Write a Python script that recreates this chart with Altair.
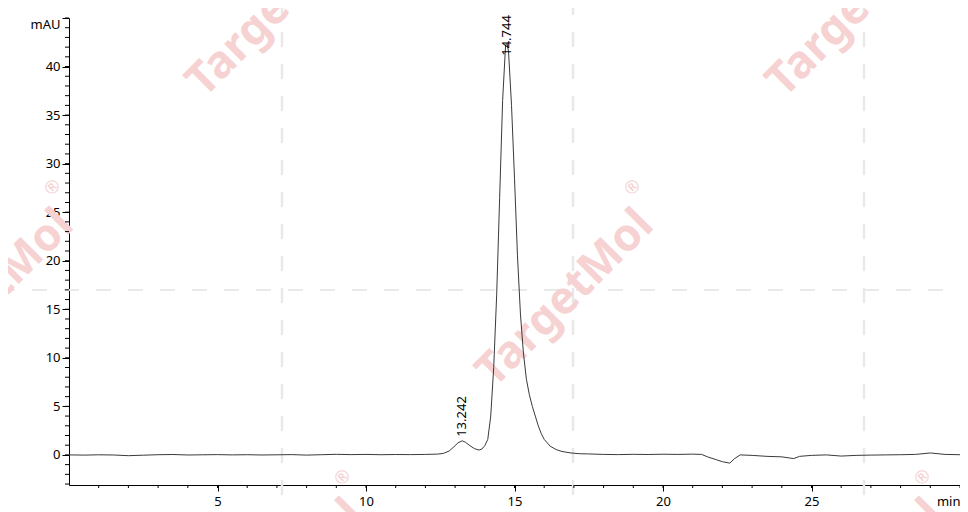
import altair as alt
import pandas as pd

# Chromatogram trace (minutes, mAU)
time_min = [0.0, 0.5, 1.0, 1.5, 2.0, 2.5, 3.0, 3.5, 4.0, 4.5, 5.0, 5.5, 6.0, 6.5, 7.0,
            7.5, 8.0, 8.5, 9.0, 9.5, 10.0, 10.5, 11.0, 11.5, 12.0, 12.4, 12.6, 12.8,
            13.0, 13.1, 13.24, 13.35, 13.5, 13.65, 13.8, 13.9, 14.0, 14.1, 14.2, 14.3,
            14.4, 14.5, 14.6, 14.7, 14.75, 14.8, 14.9, 15.0, 15.1, 15.2, 15.3, 15.4,
            15.5, 15.6, 15.7, 15.8, 15.9, 16.0, 16.2, 16.4, 16.6, 16.9, 17.2, 17.5,
            18.0, 18.5, 19.0, 19.5, 20.0, 20.5, 21.0, 21.3, 21.5, 21.8, 22.0, 22.25,
            22.4, 22.6, 23.0, 23.5, 24.0, 24.4, 24.6, 25.0, 25.5, 26.0, 26.5, 27.0,
            27.5, 28.0, 28.5, 29.0, 29.5, 30.0]
signal_mau = [0.00, -0.02, 0.01, -0.01, -0.08, -0.03, 0.02, 0.04, -0.01, 0.01, 0.03, 0.00,
              0.02, -0.01, 0.01, 0.03, -0.02, 0.02, 0.06, 0.03, 0.05, 0.02, 0.04, 0.03,
              0.05, 0.08, 0.15, 0.40, 0.95, 1.25, 1.45, 1.30, 0.95, 0.65, 0.50, 0.60,
              0.95, 1.60, 4.00, 9.00, 16.5, 26.5, 36.5, 42.2, 42.4, 41.5, 36.0, 28.5,
              20.5, 14.5, 10.5, 7.8, 6.2, 5.0, 4.0, 3.0, 2.2, 1.6, 0.9, 0.55, 0.35,
              0.20, 0.12, 0.10, 0.05, 0.03, 0.06, 0.04, 0.07, 0.05, 0.08, 0.05, -0.20,
              -0.50, -0.70, -0.85, -0.40, 0.00, -0.05, -0.15, -0.20, -0.38, -0.15,
              -0.05, 0.00, -0.12, -0.05, -0.02, 0.00, 0.02, 0.05, 0.20, 0.05, 0.02]

# Integrated peaks
peak_labels = ["13.242", "14.744"]
peak_rt = [13.242, 14.744]
peak_height = [1.45, 42.4]

x_major = [5, 10, 15, 20, 25, 30]
x_minor = list(range(1, 31))
y_major = [0, 5, 10, 15, 20, 25, 30, 35, 40, 45]
y_minor = list(range(-3, 46))

FONT = "Noto Sans"
PLOT_W, PLOT_H = 891, 467
trace = pd.DataFrame({"t": time_min, "v": signal_mau})
peaks = pd.DataFrame({"label": peak_labels, "t": peak_rt, "h": peak_height})

xs = alt.Scale(domain=[0, 30], nice=False, zero=False)
ys = alt.Scale(domain=[-3.1, 45], nice=False, zero=False)

# ---- watermark (decoration) ----
wm_color = "#f6d2d2"
wm_layers = []
deco = alt.Chart(pd.DataFrame({"k": [0]}))
for vx in [213, 504, 795]:
    wm_layers.append(deco.mark_rule(color="#e9e9e9", strokeWidth=2.5, strokeDash=[15, 17]).encode(
        x=alt.value(vx), y=alt.value(-18), y2=alt.value(494)))
for hy in [-18, 272]:
    wm_layers.append(deco.mark_rule(color="#e9e9e9", strokeWidth=2, strokeDash=[15, 17]).encode(
        y=alt.value(hy), x=alt.value(-69), x2=alt.value(891)))
for cx, cy in [(496, 280), (206, -10), (786, -10), (-84, 280), (206, 570), (786, 570)]:
    wm_layers.append(deco.mark_text(text="TargetMol", font=FONT, fontWeight="bold", fontSize=45,
                                    angle=315, color=wm_color, align="center", baseline="middle").encode(
        x=alt.value(cx), y=alt.value(cy)))
    wm_layers.append(deco.mark_text(text="®", font=FONT, fontSize=18, angle=315, color=wm_color,
                                    align="center", baseline="middle").encode(
        x=alt.value(cx + 68), y=alt.value(cy - 110)))

line = alt.Chart(trace).mark_line(color="#3a3a3a", strokeWidth=1).encode(
    x=alt.X("t:Q", scale=xs, axis=alt.Axis(values=x_major, tickSize=6, labelPadding=4, title=None,
                                            labelFlush=True, labelOverlap=False, grid=False,
                                            labelExpr="datum.value == 30 ? 'min' : datum.label")),
    y=alt.Y("v:Q", scale=ys, axis=alt.Axis(values=y_major, tickSize=7, labelPadding=2, title=None,
                                            labelFlush=True, labelOverlap=False, grid=False,
                                            labelExpr="datum.value == 45 ? 'mAU' : datum.label")),
)

# minor tick marks along both axes, placed through the shared scales
ytick = alt.Chart(pd.DataFrame({"v": y_minor})).mark_rule(color="#000000", strokeWidth=1).encode(
    y=alt.Y("v:Q", scale=ys), x=alt.value(-4), x2=alt.value(0))
xtick = alt.Chart(pd.DataFrame({"t": x_minor})).mark_rule(color="#000000", strokeWidth=1).encode(
    x=alt.X("t:Q", scale=xs), y=alt.value(PLOT_H), y2=alt.value(PLOT_H + 3))

labels = alt.Chart(peaks).transform_calculate(
    ly="min(datum.h, 40.7)"
).mark_text(angle=270, align="left", baseline="middle", dx=4, font=FONT, fontSize=13, color="#000000").encode(
    x=alt.X("t:Q", scale=xs),
    y=alt.Y("ly:Q", scale=ys),
    text="label:N",
)

chart = alt.layer(*wm_layers, line, ytick, xtick, labels).properties(
    width=PLOT_W, height=PLOT_H,
    autosize=alt.AutoSizeParams(type="none"),
    padding={"left": 61, "top": 10, "right": 0, "bottom": 27},
).configure_view(stroke=None).configure_axis(
    domainColor="#000000", domainWidth=1, tickColor="#000000", tickWidth=1,
    labelFont=FONT, labelFontSize=13, labelColor="#000000",
)

chart.save("out.html", embed_options={"renderer": "svg", "actions": False})
